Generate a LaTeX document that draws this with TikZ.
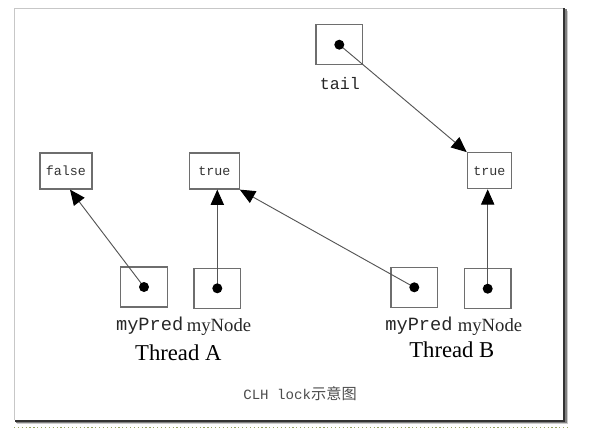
\documentclass[tikz,border=0pt]{standalone}
\usepackage{fontspec}
\setmainfont{Liberation Serif}
\newfontfamily\simfont{Liberation Mono}
\newfontfamily\cjkfont{Noto Sans CJK SC}
\usetikzlibrary{arrows.meta, calc}
\usepackage{xcolor}
\definecolor{boxgray}{RGB}{110,110,110}
\definecolor{linegray}{RGB}{85,85,85}
\definecolor{dotgreen}{RGB}{150,165,100}

\tikzset{
  valbox/.style={draw=boxgray, line width=0.9pt, minimum width=37pt,
    minimum height=27pt, inner sep=0pt, text=black!80,
    font=\simfont\fontsize{10}{12}\selectfont},
  ptrbox/.style={draw=boxgray, line width=0.9pt, minimum width=35pt,
    minimum height=30pt, inner sep=0pt},
  ptrarrow/.style={draw=linegray, line width=0.7pt,
    -{Triangle[length=11.5pt, width=10pt, color=black]}},
  lbl/.style={anchor=base, inner sep=0pt, text=black!85},
}

\begin{document}
\begin{tikzpicture}[x=0.75pt, y=-0.75pt]
    \useasboundingbox (0,0) rectangle (593,437);
    % Moldura com sombra
    \fill[black!20] (566,11) rectangle (568,424);
    \fill[black!20] (17,421) rectangle (568,424);
    \fill[black!50] (564.5,9) rectangle (566.5,422.5);
    \fill[black!50] (16,420) rectangle (566.5,422.5);
    \fill[black!80] (563,8.3) rectangle (565,421.5);
    \fill[black!80] (14.7,419.5) rectangle (565,421.5);
    \draw[black!22, line width=0.9pt] (14.7,420) -- (14.7,8.3) -- (563,8.3);
    \draw[dotgreen, dotted, line width=0.9pt] (14,427.3) -- (568,427.3);
    % Ponteiros
    \node[ptrbox] (tailptr) at (339.3,44.7) {};
    \node[ptrbox] (predA) at (144,287) {};
    \node[ptrbox] (nodeA) at (217.3,288.3) {};
    \node[ptrbox] (predB) at (414.3,287.3) {};
    \node[ptrbox] (nodeB) at (487.7,288.7) {};
    % Valores
    \node[valbox, minimum width=39pt] (falseA) at (66,171) {false};
    \node[valbox] (trueA) at (214.5,171) {true};
    \node[valbox, minimum width=33pt] (trueB) at (489.3,170.7) {true};
    % Setas
    \draw[ptrarrow] (tailptr.center) -- (trueB.north west);
    \draw[ptrarrow] (predA.center) -- ([xshift=3pt]falseA.south);
    \draw[ptrarrow] (nodeA.center) -- (nodeA.center |- trueA.south);
    \draw[ptrarrow] (predB.center) -- (trueA.south east);
    \draw[ptrarrow] (nodeB.center) -- (nodeB.center |- trueB.south);
    % Pontos
    \foreach \p in {tailptr, predA, nodeA, predB, nodeB}
      \fill[black] (\p.center) circle (5);
    % Labels
    \node[lbl, font=\simfont\fontsize{12.5}{14}\selectfont] (tailtxt)
      at (340,89) {tail};
    \node[lbl, font=\simfont\fontsize{14}{16}\selectfont] (predAtxt)
      at (149.7,330) {myPred};
    \node[lbl, font=\fontsize{14}{16}\selectfont] (nodeAtxt)
      at (219,331) {myNode};
    \node[lbl, font=\simfont\fontsize{14}{16}\selectfont] (predBtxt)
      at (419,330) {myPred};
    \node[lbl, font=\fontsize{14}{16}\selectfont] (nodeBtxt)
      at (490,331) {myNode};
    \node[lbl, text=black, font=\fontsize{17}{19}\selectfont] (thrA)
      at (178.3,360) {Thread A};
    \node[lbl, text=black, font=\fontsize{17}{19}\selectfont] (thrB)
      at (451.8,357) {Thread B};
    \node[lbl, text=black!70] (caption) at (300,399)
      {{\simfont\fontsize{10.6}{12}\selectfont CLH lock}{\cjkfont\fontsize{11.4}{13}\selectfont 示意图}};
\end{tikzpicture}
\end{document}
